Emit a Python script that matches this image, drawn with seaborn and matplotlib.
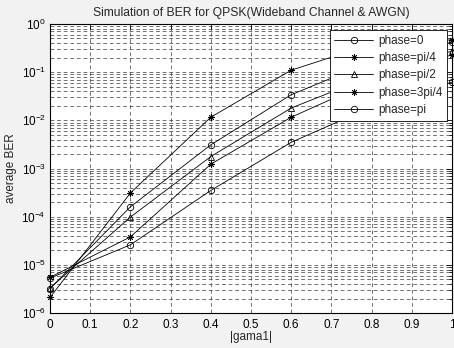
import numpy as np
import pandas as pd
import matplotlib
matplotlib.use("Agg")
import matplotlib.pyplot as plt
from matplotlib.ticker import LogLocator, FixedLocator, NullFormatter
import seaborn as sns

# |gama1| sample points
gama = [0.0, 0.2, 0.4, 0.6, 0.8, 1.0]

# average BER per phase offset
ber_0 = [3.2e-6, 1.6e-4, 3.1e-3, 3.4e-2, 1.66e-1, 4.2e-1]
ber_pi4 = [2.1e-6, 3.1e-4, 1.16e-2, 1.1e-1, 3.8e-1, 4.7e-1]
ber_pi2 = [3.3e-6, 9.8e-5, 1.77e-3, 1.8e-2, 8.3e-2, 2.75e-1]
ber_3pi4 = [5.5e-6, 3.8e-5, 1.23e-3, 1.16e-2, 6.5e-2, 2.3e-1]
ber_pi = [5.3e-6, 2.6e-5, 3.5e-4, 3.5e-3, 1.9e-2, 6.2e-2]

labels = ["phase=0", "phase=pi/4", "phase=pi/2", "phase=3pi/4", "phase=pi"]
series = [ber_0, ber_pi4, ber_pi2, ber_3pi4, ber_pi]
markers = ["o", (8, 2, 0), "^", (8, 2, 0), "o"]

sns.set_style("white")
plt.rcParams["font.family"] = ["Liberation Sans", "DejaVu Sans"]
plt.rcParams["mathtext.fontset"] = "custom"
plt.rcParams["mathtext.rm"] = "Liberation Sans"
plt.rcParams["mathtext.it"] = "Liberation Sans"

fig = plt.figure(figsize=(4.54, 3.48), dpi=100, facecolor="#f2f2f2")
ax = fig.add_axes([50 / 454, 1 - 313 / 348, 402 / 454, 289 / 348])
ax.set_facecolor("white")

for lab, vals, mk in zip(labels, series, markers):
    df = pd.DataFrame({"gama": gama, "ber": vals})
    sns.lineplot(data=df, x="gama", y="ber", ax=ax, color="black",
                 linewidth=0.6, marker=mk, markersize=4.6,
                 markerfacecolor="none", markeredgecolor="black",
                 markeredgewidth=0.6, label=lab, clip_on=False, zorder=3)

for ln in ax.lines:
    ln.set_markerfacecolor("none")
    ln.set_markeredgecolor("black")

ax.set_yscale("log")
ax.set_xlim(0, 1)
ax.set_ylim(1e-6, 1)
ax.xaxis.set_major_locator(FixedLocator(np.round(np.arange(0, 1.01, 0.1), 1)))
ax.set_xticklabels(["0", "0.1", "0.2", "0.3", "0.4", "0.5", "0.6", "0.7", "0.8", "0.9", "1"])
ax.yaxis.set_major_locator(LogLocator(base=10, numticks=10))
ax.yaxis.set_minor_locator(LogLocator(base=10, subs=np.arange(2, 10), numticks=20))
ax.yaxis.set_minor_formatter(NullFormatter())
ax.xaxis.offsetText.set_visible(False)
ax.yaxis.offsetText.set_visible(False)

grid_kw = dict(color="#3a3a3a", linestyle=(0, (5.5, 4)), linewidth=0.5)
ax.grid(True, which="major", axis="both", **grid_kw)
ax.grid(True, which="minor", axis="y", **grid_kw)
ax.set_axisbelow(True)

ax.tick_params(axis="both", which="both", direction="in", top=True, right=True,
               labelsize=8.5, colors="black", length=4, width=0.6)
ax.tick_params(axis="y", which="minor", length=2)
ax.tick_params(axis="x", pad=4)
ax.tick_params(axis="y", pad=3)
for sp in ax.spines.values():
    sp.set_color("black")
    sp.set_linewidth(0.8)

ax.set_title("Simulation of BER for QPSK(Wideband Channel & AWGN)", fontsize=8.7, pad=6)
ax.set_xlabel("|gama1|", fontsize=8.5, labelpad=0)
ax.set_ylabel("average BER", fontsize=8.5, labelpad=3)

leg = ax.legend(loc="upper right", bbox_to_anchor=(447 / 454, 1 - 30 / 348),
                bbox_transform=fig.transFigure, borderaxespad=0, fontsize=8.5,
                frameon=True, fancybox=False, edgecolor="black", framealpha=1,
                handlelength=3.3, handletextpad=0.4, labelspacing=0.45,
                borderpad=0.4)
leg.get_frame().set_linewidth(0.6)
leg.set_zorder(10)

fig.savefig("out.png", dpi=100, facecolor=fig.get_facecolor())
